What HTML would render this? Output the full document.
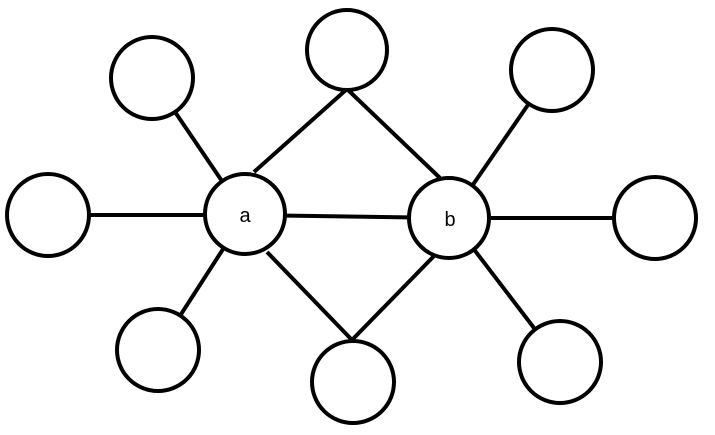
<!DOCTYPE html>
<html><head><style>html,body{margin:0;padding:0;background:#fff;}svg{display:block;}</style></head>
<body>
<svg width="715" height="435" viewBox="0 0 715 435" xmlns="http://www.w3.org/2000/svg">
<g stroke="#000" stroke-width="4" fill="none">
<line x1="245" y1="215" x2="152" y2="78"/>
<line x1="254" y1="172" x2="347" y2="89"/>
<line x1="245" y1="215" x2="48" y2="215"/>
<line x1="245" y1="215" x2="158" y2="350"/>
<line x1="267" y1="252" x2="352" y2="340"/>
<line x1="245" y1="215" x2="450" y2="218"/>
<line x1="440" y1="178" x2="347" y2="89"/>
<line x1="450" y1="218" x2="552" y2="70"/>
<line x1="450" y1="218" x2="655" y2="218"/>
<line x1="435" y1="255" x2="352" y2="340"/>
<line x1="450" y1="218" x2="560" y2="362"/>
</g>
<g stroke="#000" stroke-width="4" fill="#fff">
<circle cx="152" cy="78" r="41"/>
<circle cx="347" cy="50" r="40"/>
<circle cx="552" cy="70" r="41"/>
<circle cx="48" cy="215" r="41"/>
<circle cx="245" cy="214" r="40"/>
<circle cx="449" cy="218" r="40"/>
<circle cx="655" cy="218" r="41"/>
<circle cx="158" cy="350" r="41"/>
<circle cx="353" cy="382" r="41"/>
<circle cx="560" cy="362" r="41"/>
</g>
<text x="245" y="222" font-family="Liberation Sans, sans-serif" font-size="20" text-anchor="middle">a</text>
<text x="450" y="226" font-family="Liberation Sans, sans-serif" font-size="20" text-anchor="middle">b</text>
</svg>
</body></html>
